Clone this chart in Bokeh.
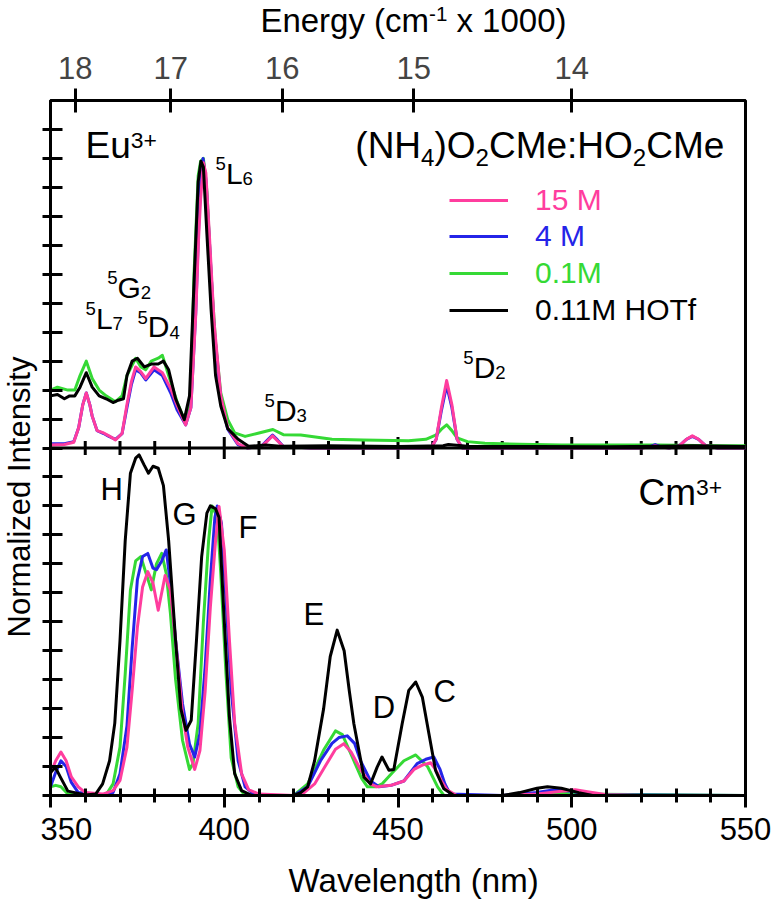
import math
from bokeh.plotting import figure
from bokeh.layouts import column, row
from bokeh.models import (Range1d, LinearAxis, FixedTicker, SingleIntervalTicker,
                          Span, Label, Legend, LegendItem)
from bokeh.embed import file_html
from bokeh.resources import INLINE

FONT = "Liberation Sans"
PINK = "#ff3d9e"
BLUE = "#2424e8"
GREEN = "#35d935"
BLACK = "#000000"
MID = 0.3465  # distance (in em) from the alphabetic baseline up to the middle of the text box

# ---------------- data: Eu3+ (top panel) ----------------
eu_x_15m = [350, 354, 356.7, 358.1, 359.3, 360.3, 361.3, 362, 363.4, 365.3, 366.8, 368.7, 370.6, 372, 373.3,
            374.5, 375.9, 377.4, 379.8, 382.2, 384.6, 386.5, 388.9, 390.4, 391.8, 392.6, 393.2, 394.0, 394.7,
            395.7, 397.1, 399, 401, 403.9, 406.7, 410.6, 412.5, 413.9, 415.3, 417, 425, 440, 455, 459.5, 461,
            462.5, 464, 465.5, 467, 468.5, 475, 500, 520, 522.5, 524, 525.5, 528, 531, 533, 534.7, 536.5,
            538.5, 542, 550]
eu_y_15m = [0.01, 0.012, 0.02, 0.07, 0.15, 0.19, 0.15, 0.11, 0.06, 0.052, 0.042, 0.028, 0.05, 0.15, 0.23,
            0.28, 0.265, 0.24, 0.28, 0.26, 0.205, 0.145, 0.08, 0.14, 0.46, 0.72, 0.86, 0.985, 0.95,
            0.74, 0.43, 0.18, 0.07, 0.015, 0.0, 0.005, 0.025, 0.042, 0.025, 0.005, 0.0, 0.0, 0.0, 0.0, 0.03,
            0.14, 0.233, 0.15, 0.03, 0.0, 0.0, 0.0, 0.0, 0.003, 0.008, 0.003, 0.0, 0.008, 0.03, 0.042, 0.03,
            0.008, 0.0, 0.0]

eu_x_4m = [350, 354, 356.7, 358.1, 359.3, 360.3, 361.3, 362, 363.4, 365.3, 366.8, 368.7, 370.6, 372, 373.3,
           374.5, 375.9, 377.4, 379.8, 382.2, 384.6, 386.5, 388.9, 390.4, 391.8, 392.6, 393.2, 393.9, 394.7,
           395.7, 397.1, 399, 401, 403.9, 406.7, 410.6, 412.5, 413.9, 415.3, 417, 425, 440, 455, 459.5, 461,
           462.5, 464, 465.5, 467, 468.5, 475, 500, 520, 522.5, 524, 525.5, 528, 531, 533, 534.7, 536.5,
           538.5, 542, 550]
eu_y_4m = [0.015, 0.015, 0.022, 0.07, 0.15, 0.19, 0.15, 0.11, 0.06, 0.05, 0.04, 0.03, 0.05, 0.14, 0.22,
           0.27, 0.26, 0.235, 0.27, 0.25, 0.19, 0.13, 0.08, 0.14, 0.47, 0.75, 0.92, 1.0, 0.93,
           0.72, 0.41, 0.17, 0.065, 0.012, 0.0, 0.005, 0.028, 0.045, 0.028, 0.005, 0.0, 0.0, 0.0, 0.0, 0.03,
           0.13, 0.216, 0.14, 0.03, 0.0, 0.0, 0.0, 0.0, 0.005, 0.012, 0.005, 0.0, 0.008, 0.03, 0.04, 0.03,
           0.008, 0.0, 0.0]

eu_x_01m = [350, 352, 355, 357, 358.5, 360.3, 362, 364, 366, 368.7, 370.6, 372, 374.5, 376, 377.4, 379, 381,
            382.2, 384, 386.5, 388.9, 390.4, 391.3, 392.5, 393.2, 394, 395, 396.2, 397.5, 399, 401, 403, 406,
            410, 414, 417, 422, 431, 440, 453, 458, 461, 462.5, 464, 465.5, 467, 470, 475, 485, 497, 510, 525,
            541, 550]
eu_y_01m = [0.2, 0.21, 0.2, 0.2, 0.25, 0.3, 0.24, 0.2, 0.18, 0.16, 0.18, 0.25, 0.31, 0.28, 0.27, 0.30, 0.31,
            0.32, 0.25, 0.157, 0.087, 0.2, 0.6, 0.94, 0.99, 1.0, 0.887, 0.6, 0.365, 0.19, 0.098, 0.052, 0.04,
            0.052, 0.064, 0.046, 0.045, 0.03, 0.028, 0.025, 0.03, 0.045, 0.065, 0.08, 0.06, 0.035, 0.022, 0.016,
            0.013, 0.01, 0.01, 0.01, 0.008, 0.008]

eu_x_hotf = [350, 352, 354, 355.5, 357, 358.5, 360.3, 362, 364, 366, 368, 369.5, 371, 372, 373.5, 375, 377,
             379, 381, 382.5, 384, 386, 388.5, 390, 391.2, 392.5, 393.3, 394, 395, 396.2, 397.5, 399, 401,
             404, 407, 412, 416, 430, 450, 463, 464.5, 470, 490, 510, 525, 535, 550]
eu_y_hotf = [0.18, 0.185, 0.17, 0.18, 0.18, 0.21, 0.26, 0.21, 0.18, 0.17, 0.157, 0.165, 0.17, 0.25, 0.30,
             0.31, 0.28, 0.29, 0.29, 0.30, 0.27, 0.17, 0.098, 0.18, 0.54, 0.92, 0.99, 0.97, 0.74, 0.48, 0.25,
             0.145, 0.067, 0.03, 0.006, 0.01, 0.006, 0.008, 0.005, 0.008, 0.012, 0.006, 0.005, 0.004, 0.006,
             0.008, 0.005]

# ---------------- data: Cm3+ (bottom panel) ----------------
cm_x_15m = [350, 351.5, 353, 354.5, 356, 358, 360, 365, 368, 370, 372, 373.5, 375, 376.5, 378, 379.5, 381,
            382, 383, 384.5, 386, 388, 389.5, 391.5, 393, 394.5, 396, 397.5, 398.5, 400, 401.5, 403, 405, 407,
            410, 420, 423, 426, 429, 432, 434.4, 436.5, 439.2, 442, 444, 448, 451.7, 454.6, 457, 459.4, 460.8,
            462.5, 464.1, 466.9, 480, 490, 497, 501, 505, 510, 520, 550]
cm_y_15m = [0.075, 0.12, 0.15, 0.12, 0.064, 0.03, 0.01, 0.005, 0.017, 0.052, 0.167, 0.363, 0.58, 0.72, 0.773,
            0.733, 0.64, 0.70, 0.76, 0.71, 0.535, 0.282, 0.167, 0.09, 0.155, 0.36, 0.65, 0.88, 0.998, 0.848,
            0.535, 0.25, 0.075, 0.02, 0.005, 0.0, 0.01, 0.04, 0.1, 0.16, 0.179, 0.15, 0.09, 0.04, 0.03, 0.035,
            0.05, 0.09, 0.105, 0.113, 0.09, 0.05, 0.02, 0.0, 0.0, 0.005, 0.015, 0.02, 0.012, 0.003, 0.0, 0.0]

cm_x_4m = [350, 351.5, 353, 354.5, 356, 358, 365, 368, 370, 372, 373.5, 375, 376.5, 378, 379.5, 380.5, 382,
           383.3, 384.5, 386, 388, 390, 391.5, 393, 394.5, 396, 397.3, 398, 399.2, 400.5, 402, 404, 406, 409,
           420, 424, 427.7, 431, 433, 435.4, 437.5, 439.2, 442.1, 444.5, 448, 451.7, 455.5, 458, 460.3, 462.1,
           463.5, 465, 480, 490, 495, 500, 505, 550]
cm_y_4m = [0.03, 0.08, 0.12, 0.1, 0.045, 0.01, 0.003, 0.01, 0.075, 0.24, 0.51, 0.745, 0.825, 0.836, 0.785,
           0.78, 0.81, 0.848, 0.733, 0.535, 0.316, 0.178, 0.133, 0.214, 0.444, 0.745, 0.96, 1.0, 0.94, 0.675,
           0.363, 0.12, 0.03, 0.0, 0.0, 0.03, 0.12, 0.18, 0.2, 0.206, 0.18, 0.12, 0.05, 0.03, 0.035, 0.05,
           0.11, 0.125, 0.133, 0.09, 0.04, 0.005, 0.0, 0.01, 0.02, 0.015, 0.003, 0.0]

cm_x_01m = [350, 351.5, 353, 355, 366, 368, 370, 371.5, 373, 374.5, 376, 377.5, 379, 380.5, 382, 383.3, 384.5,
            386, 388, 390, 391, 392.5, 394, 395.5, 396.5, 398, 399, 400.5, 402, 404, 406, 420, 424, 428.6,
            432, 434, 437.3, 439.5, 441.2, 443.6, 445.4, 448.5, 451.7, 455.1, 458.5, 461.4, 463.2, 480, 490,
            495, 500, 550]
cm_y_01m = [0.03, 0.035, 0.03, 0.005, 0.002, 0.04, 0.167, 0.42, 0.71, 0.81, 0.825, 0.767, 0.71, 0.80, 0.836,
            0.767, 0.63, 0.40, 0.19, 0.09, 0.11, 0.25, 0.6, 0.88, 1.0, 0.96, 0.767, 0.42, 0.13, 0.03, 0.0, 0.0,
            0.04, 0.157, 0.223, 0.21, 0.12, 0.06, 0.03, 0.03, 0.04, 0.08, 0.12, 0.14, 0.1, 0.03, 0.0, 0.0,
            0.005, 0.01, 0.005, 0.0]

cm_x_hotf = [350, 351.4, 353, 355, 360, 363, 365, 367, 368.5, 370, 371.5, 373, 374.5, 375.5, 377, 378.2, 379.5,
             381, 382.5, 384, 386, 387.5, 389, 390.5, 392, 393.5, 395, 396, 397.5, 398.5, 399.8, 401.5, 403,
             405, 408, 420, 422, 424, 426, 428.6, 430.5, 432.5, 434.5, 436, 437.3, 440.2, 442.1, 444, 445.4,
             447.4, 448.8, 451.2, 453.1, 455.1, 457, 458.9, 460.8, 463.2, 466.1, 480, 485, 490, 493, 497, 502,
             506, 550]
cm_y_hotf = [0.08, 0.097, 0.06, 0.015, 0.002, 0.005, 0.04, 0.12, 0.25, 0.535, 0.88, 1.113, 1.165, 1.176, 1.14,
             1.113, 1.137, 1.13, 1.07, 0.88, 0.535, 0.30, 0.225, 0.26, 0.535, 0.825, 0.975, 1.0, 0.99, 0.96,
             0.65, 0.27, 0.075, 0.017, 0.0, 0.0, 0.01, 0.03, 0.12, 0.30, 0.48, 0.571, 0.50, 0.36, 0.248, 0.063,
             0.04, 0.098, 0.133, 0.087, 0.09, 0.248, 0.363, 0.392, 0.34, 0.213, 0.087, 0.023, 0.0, 0.0, 0.01,
             0.025, 0.03, 0.025, 0.01, 0.0, 0.0]

series_labels = ["15 M", "4 M", "0.1M", "0.11M HOTf"]
energy_tick_wavelengths = [357.1, 384.6, 416.7, 454.5, 500.0]
energy_tick_labels = ["18", "17", "16", "15", "14"]

xr = Range1d(350, 550)

# ---------------- rich text helper ----------------
W = {' ': 278, '(': 333, ')': 333, '+': 584, '-': 333, ':': 278, '.': 278,
     'C': 722, 'D': 722, 'E': 667, 'F': 611, 'G': 778, 'H': 722, 'L': 556, 'M': 833, 'N': 722, 'O': 778,
     'a': 556, 'c': 500, 'e': 556, 'g': 556, 'm': 833, 'n': 556, 'r': 333, 'u': 556, 'x': 500, 'y': 500}


def tw(s, size):
    return sum(W.get(ch, 556) for ch in s) * size / 1000.0


def rich(fig, x, y, parts, size, yr="default", align="left", sup_dy=0.45, sub_dy=-0.06, small=0.62):
    """Place text whose alphabetic baseline is at (x, y); supports super/subscript parts."""
    total = sum(tw(t, size if k == "n" else size * small) for t, k in parts)
    off = 0.0 if align == "left" else -total
    for t, k in parts:
        s = size if k == "n" else size * small
        dy = 0.0 if k == "n" else (sup_dy * size if k == "sup" else sub_dy * size)
        lead = len(t) - len(t.lstrip(" "))
        off += tw(" " * lead, s)
        body = t.lstrip(" ")
        fig.add_layout(Label(x=x, y=y, x_offset=off, y_offset=dy + MID * s, text=body, text_font=FONT,
                             text_font_size="%.1fpx" % s, text_color="black",
                             text_baseline="middle", text_align="left", y_range_name=yr))
        off += tw(body, s)


def strip(fw, fh, x_range, left, right):
    f = figure(frame_width=fw, frame_height=fh, x_range=x_range, y_range=Range1d(0, 1),
               output_backend="svg", toolbar_location=None, tools="", title=None,
               x_axis_location=None, y_axis_location=None,
               min_border_left=left, min_border_right=right, min_border_top=0, min_border_bottom=0)
    f.grid.visible = False
    f.outline_line_color = None
    f.background_fill_color = "white"
    f.border_fill_color = "white"
    return f


# ---------------- title strip (top, 40 px) ----------------
ft = strip(695, 40, xr, 50, 34)
rich(ft, 410.4, 1 - 31 / 40, [("Energy (cm", "n"), ("-1", "sup"), (" x 1000)", "n")], 33, sup_dy=0.33)

# ---------------- y-label strip (left, 40 px) ----------------
fl = strip(40, 815, Range1d(0, 1), 0, 0)
fl.add_layout(Label(x=19 / 40, y=1 - 396.5 / 815, text="Normalized Intensity",
                    text_font=FONT, text_font_size="31px", text_align="center", text_baseline="middle",
                    text_color="black", angle=math.pi / 2, angle_units="rad"))

# ---------------- x-label strip (bottom, 44 px) ----------------
fb = strip(695, 44, xr, 50, 34)
fb.add_layout(Label(x=454.5, y=1 - 36 / 44, y_offset=MID * 33, text="Wavelength (nm)", text_font=FONT,
                    text_font_size="33px", text_align="center", text_baseline="middle", text_color="black"))

# ---------------- main figure ----------------
p = figure(frame_width=695, frame_height=695, min_border_left=10, min_border_right=34,
           min_border_top=60, min_border_bottom=60, x_range=xr, y_range=Range1d(0, 2.4),
           output_backend="svg", toolbar_location=None, tools="", title=None)
p.extra_y_ranges = {"eu": Range1d(-1.2, 1.2)}
p.xgrid.visible = False
p.ygrid.visible = False
p.outline_line_color = "black"
p.outline_line_width = 3
p.background_fill_color = "white"
p.border_fill_color = "white"

xa = p.xaxis[0]
xa.ticker = SingleIntervalTicker(interval=50, num_minor_ticks=5)
xa.axis_line_width = 3
xa.major_tick_line_width = 3
xa.minor_tick_line_width = 3
xa.major_tick_in = 7
xa.major_tick_out = 12
xa.minor_tick_in = 7
xa.minor_tick_out = 7
xa.major_label_text_font = FONT
xa.major_label_text_font_size = "31px"
xa.major_label_text_color = "black"
xa.major_label_standoff = 10

ya = p.yaxis[0]
ya.ticker = FixedTicker(ticks=[i * 0.1 for i in range(25)], minor_ticks=[])
ya.axis_line_width = 3
ya.major_tick_line_width = 3
ya.major_tick_in = 12
ya.major_tick_out = 8
ya.major_label_text_font_size = "0px"
ya.major_label_text_color = None
ya.major_label_standoff = 0

top = LinearAxis(ticker=FixedTicker(ticks=energy_tick_wavelengths, minor_ticks=[]),
                 major_label_overrides={w: l for w, l in zip(energy_tick_wavelengths, energy_tick_labels)})
top.axis_line_width = 3
top.major_tick_line_width = 3
top.major_tick_in = 12
top.major_tick_out = 12
top.major_label_text_font = FONT
top.major_label_text_font_size = "31px"
top.major_label_standoff = 10
p.add_layout(top, "above")

# divider between panels
p.add_layout(Span(location=1.2, dimension="width", line_color="black", line_width=3))
div_minor = [v for v in range(360, 550, 10) if v % 50 != 0]
div_major = [400, 450, 500]
p.scatter(div_minor, [1.2] * len(div_minor), marker="dash", angle=math.pi / 2, size=14,
          line_color="black", line_width=3)
p.scatter(div_major, [1.2] * len(div_major), marker="dash", angle=math.pi / 2, size=22,
          line_color="black", line_width=3)

# curves
eu_data = [(eu_x_01m, eu_y_01m, GREEN), (eu_x_4m, eu_y_4m, BLUE), (eu_x_15m, eu_y_15m, PINK),
           (eu_x_hotf, eu_y_hotf, BLACK)]
cm_data = [(cm_x_01m, cm_y_01m, GREEN), (cm_x_4m, cm_y_4m, BLUE), (cm_x_15m, cm_y_15m, PINK),
           (cm_x_hotf, cm_y_hotf, BLACK)]
eu_r = []
for xs, ys, c in eu_data:
    eu_r.append(p.line(xs, ys, line_color=c, line_width=3, line_join="round", y_range_name="eu"))
for xs, ys, c in cm_data:
    p.line(xs, ys, line_color=c, line_width=3, line_join="round")

# legends (each entry has its own text colour)
leg_renderers = [eu_r[2], eu_r[1], eu_r[0], eu_r[3]]
leg_colors = [PINK, BLUE, GREEN, BLACK]
leg_bottoms = [578, 542, 505, 468]
for lab, r, c, yb in zip(series_labels, leg_renderers, leg_colors, leg_bottoms):
    lg = Legend(items=[LegendItem(label=lab, renderers=[r])], location=(399, yb),
                glyph_width=59, glyph_height=30, label_height=30, label_standoff=27,
                padding=0, spacing=0, margin=0, border_line_alpha=0, background_fill_alpha=0,
                label_text_font=FONT, label_text_font_size="30px", label_text_color=c)
    p.add_layout(lg)


def level(x, y, term, sub, yr):
    rich(p, x, y, [("5", "sup"), (term, "n"), (sub, "sub")], 30, yr=yr)


# top panel labels
rich(p, 360.1, 1.0, [("Eu", "n"), ("3+", "sup")], 37, yr="eu", sup_dy=0.28)
rich(p, 543.9, 1.0, [("(NH", "n"), ("4", "sub"), (")O", "n"), ("2", "sub"), ("CMe:HO", "n"), ("2", "sub"),
                     ("CMe", "n")], 37, yr="eu", align="right", sub_dy=-0.19, small=0.65)
level(397.5, 0.913, "L", "6", "eu")
level(366.3, 0.52, "G", "2", "eu")
level(360.1, 0.413, "L", "7", "eu")
level(375.0, 0.382, "D", "4", "eu")
level(411.6, 0.095, "D", "3", "eu")
level(468.8, 0.243, "D", "2", "eu")

# bottom panel labels
for t, lx, ly in [("H", 364.4, 1.019), ("G", 385.1, 0.932), ("F", 404.1, 0.887), ("E", 422.8, 0.587),
                  ("D", 442.7, 0.266), ("C", 460.2, 0.321)]:
    rich(p, lx, ly, [(t, "n")], 31)
rich(p, 519.2, 1.001, [("Cm", "n"), ("3+", "sup")], 37, sup_dy=0.28)

layout = column(ft, row(fl, p, spacing=0), fb, spacing=0)
open("out.html", "w").write(file_html(layout, INLINE))
